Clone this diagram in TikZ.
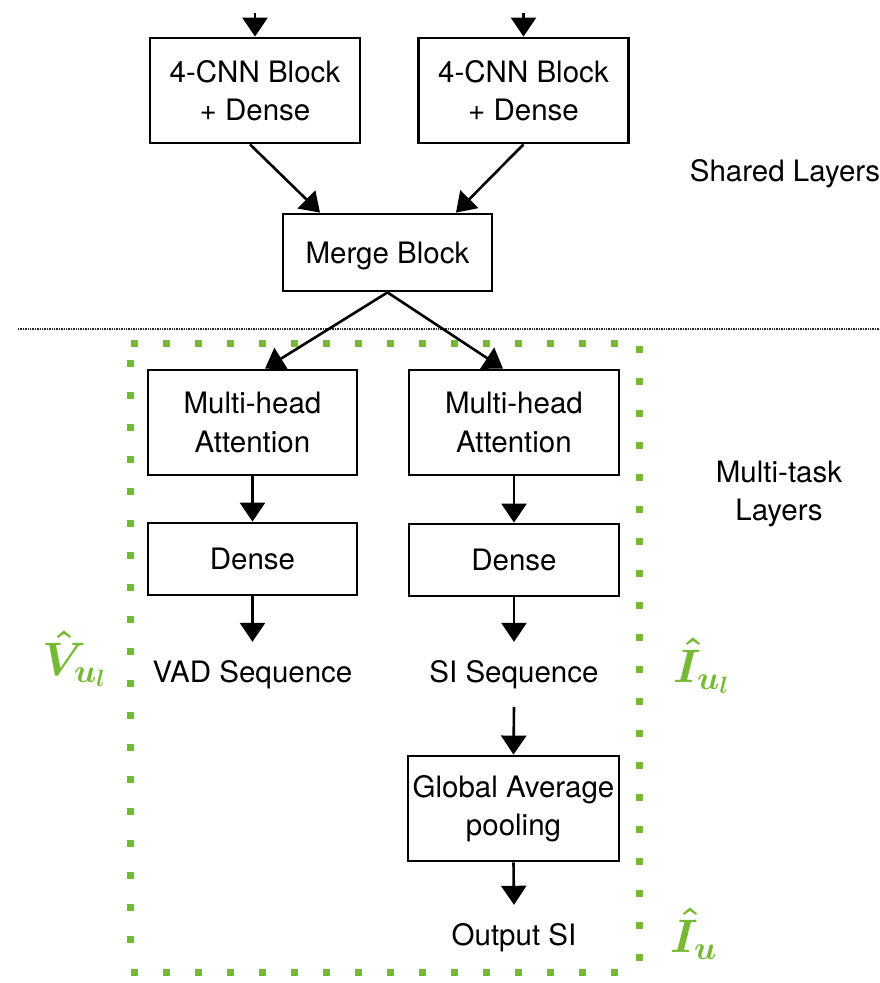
\RequirePackage{fix-cm}
\documentclass[tikz,border=0pt]{standalone}
\usepackage{fontspec}
\setmainfont{TeX Gyre Heros}
\usetikzlibrary{arrows.meta,calc}
\definecolor{taskgreen}{RGB}{118,186,52}
\begin{document}
\begin{tikzpicture}[x=1pt,y=-1pt,
  every node/.style={font=\fontsize{29.5}{38.5}\selectfont},
  block/.style={draw, line width=2.8pt, rectangle, align=center, inner sep=0pt,
                minimum width=210pt, minimum height=105pt},
  arr/.style={line width=2.6pt, -{Triangle[length=19pt,width=25pt]}},
  seqtext/.style={anchor=base, inner xsep=2pt, inner ysep=19pt,
                  text height=21pt, text depth=6pt},
  mathlabel/.style={text=taskgreen, font=\fontsize{47}{47}\selectfont\boldmath,
                    anchor=base west, inner sep=0pt}
]
\useasboundingbox (0,0) rectangle (879,983);

% shared layers
\node[block] (cnnA) at (255,90.5) {4-CNN Block\\+ Dense};
\node[block] (cnnB) at (523.5,90.5) {4-CNN Block\\+ Dense};
\node[block, minimum width=209pt, minimum height=77pt, text depth=0pt] (merge) at (387.5,252.5) {Merge Block};

\coordinate (inA) at (255,13);
\coordinate (inB) at (523.5,13);
\draw[arr] (inA) -- (cnnA.north);
\draw[arr] (inB) -- (cnnB.north);
\draw[arr] ($(cnnA.south)+(-5,0)$) -- ($(merge.north)+(-67.5,0)$);
\draw[arr] (cnnB.south) -- ($(merge.north)+(68.5,0)$);

% separator between shared and task layers
\coordinate (sepL) at (18,329);
\coordinate (sepR) at (879,329);
\draw[line width=1.2pt, black!85, dash pattern=on 1.3pt off 1.1pt] (sepL) -- (sepR);

% multi-task layers
\node[block, minimum width=209pt] (mhaA) at (252.5,422.5) {Multi-head\\Attention};
\node[block] (mhaB) at (514,422.5) {Multi-head\\Attention};
\node[block, minimum width=209pt, minimum height=72pt] (denseA) at (252.5,559) {Dense};
\node[block, minimum height=72pt] (denseB) at (514,560) {Dense};
\node[seqtext] (vad) at (252.5,682) {VAD Sequence};
\node[seqtext] (siseq) at (514,682) {SI Sequence};
\node[block, minimum width=211pt] (gap) at (513.5,808.5) {Global Average\\pooling};
\node[seqtext] (outsi) at (514,945) {Output SI};

\draw[arr] (merge.south) -- ($(mhaA.north)+(12.5,0)$);
\draw[arr] (merge.south) -- ($(mhaB.north)+(-11,0)$);
\draw[arr] (mhaA.south) -- (denseA.north);
\draw[arr] (mhaB.south) -- (denseB.north);
\draw[arr] (denseA.south) -- (vad.north);
\draw[arr] (denseB.south) -- (siseq.north);
\draw[arr] (siseq.south) -- (gap.north);
\draw[arr] (gap.south) -- (outsi.north);

% section captions
\node (shared) at (785,174) {Shared Layers};
\node[align=center] (multi) at (779,494) {Multi-task\\Layers};

% dotted green frame round the task heads
\foreach \k in {0,...,15} \fill[taskgreen] (134+32*\k-3.5,339.5) rectangle ++(7,7);
\foreach \k in {0,...,19} \fill[taskgreen] (635.5,349+32*\k-3.5) rectangle ++(7,7);
\foreach \k in {0,...,18} \fill[taskgreen] (126.5,363+32*\k-3.5) rectangle ++(7,7);
\foreach \k in {0,...,15} \fill[taskgreen] (134+32*\k-3.5,968.5) rectangle ++(7,7);

% output symbols
\node[mathlabel] (vhat) at (42,675) {$\hat{V}_{u_l}$};
\node[mathlabel] (ihatseq) at (673,682) {$\hat{I}_{u_l}$};
\node[mathlabel] (ihat) at (670,952) {$\hat{I}_{u}$};
\end{tikzpicture}
\end{document}
